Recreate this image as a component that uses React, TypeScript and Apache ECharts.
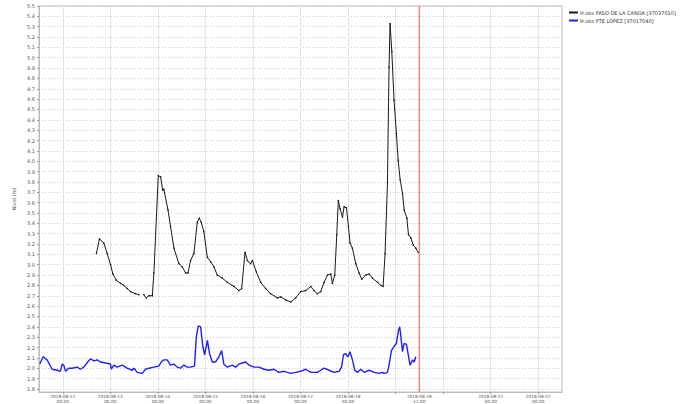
import React, { useEffect, useRef } from "react";
import * as echarts from "echarts";

// Hours since 2018-08-12 00:00 (UTC) and observed levels (m)
const pasoHours = [17, 18.5, 20.7, 22.4, 24.1, 25.3, 27.0, 29.2, 30.8, 32.5, 34.2, 36.7, 38.4, 39.6, 40.9, 42.1, 43.5, 45.2, 46.0, 48.2, 49.4, 50.4, 51.0, 53.1, 54.4, 56.1, 58.6, 60.3, 62.0, 63.2, 64.5, 66.2, 67.9, 68.9, 69.9, 71.2, 73.0, 74.6, 76.3, 78.0, 80.5, 83.1, 86.4, 88.9, 90.3, 92.0, 93.2, 94.8, 95.7, 97.7, 99.9, 102.4, 104.9, 108.3, 110.0, 112.5, 115.1, 117.6, 120.1, 122.6, 125.2, 126.8, 128.5, 130.2, 131.9, 133.6, 135.3, 136.1, 137.3, 138.3, 139.1, 140.0, 141.2, 142.0, 143.2, 144.2, 145.0, 146.2, 147.9, 149.6, 150.9, 152.9, 154.6, 156.3, 158.9, 160.5, 161.7, 162.7, 163.9, 164.7, 165.2, 166.1, 167.2, 168.4, 169.3, 170.3, 171.5, 172.3, 173.7, 174.5, 175.7, 176.9, 178.2, 179.4];
const pasoLevels: (number | null)[] = [3.11, 3.25, 3.21, 3.11, 3.0, 2.91, 2.85, 2.82, 2.8, 2.77, 2.74, 2.72, 2.71, null, 2.71, 2.68, 2.7, 2.7, 2.92, 3.86, 3.85, 3.72, 3.73, 3.53, 3.37, 3.16, 3.01, 2.98, 2.92, 2.92, 3.04, 3.11, 3.41, 3.45, 3.41, 3.32, 3.07, 3.03, 2.98, 2.9, 2.87, 2.83, 2.79, 2.75, 2.77, 3.12, 3.04, 3.01, 3.04, 2.93, 2.83, 2.77, 2.72, 2.68, 2.69, 2.66, 2.64, 2.68, 2.74, 2.75, 2.79, 2.75, 2.72, 2.74, 2.83, 2.9, 2.91, 2.82, 2.9, 3.29, 3.62, 3.54, 3.46, 3.56, 3.55, 3.37, 3.21, 3.16, 3.01, 2.92, 2.86, 2.9, 2.91, 2.87, 2.83, 2.8, 2.79, 3.11, 3.79, 4.91, 5.33, 5.06, 4.59, 4.27, 4.01, 3.82, 3.69, 3.53, 3.45, 3.29, 3.26, 3.19, 3.16, 3.12];

const lopezHours = [-11.6, -9.9, -7.9, -5.4, -2.8, -1.2, -0.3, 0.5, 1.4, 3.0, 4.7, 7.3, 8.9, 10.6, 12.6, 14.0, 15.7, 17.4, 19.0, 21.6, 24.1, 24.5, 25.8, 27.5, 30.0, 32.5, 35.1, 35.9, 37.6, 40.1, 41.8, 43.5, 46.0, 48.5, 49.7, 51.0, 52.7, 54.4, 56.1, 57.8, 59.5, 61.1, 62.9, 64.5, 66.5, 67.4, 68.4, 69.6, 70.7, 71.6, 73.0, 74.1, 75.5, 77.2, 78.8, 80.2, 81.3, 83.1, 85.6, 87.3, 88.9, 90.6, 92.3, 94.0, 96.5, 99.0, 101.6, 104.1, 106.6, 109.1, 111.7, 115.0, 117.6, 120.1, 122.6, 125.2, 128.5, 130.2, 131.9, 134.4, 136.9, 139.5, 140.7, 141.7, 142.8, 144.0, 145.0, 146.2, 147.4, 148.8, 150.4, 152.1, 154.6, 157.2, 159.7, 161.4, 162.2, 163.9, 164.7, 165.9, 167.2, 168.4, 169.5, 170.1, 171.5, 172.3, 173.5, 174.3, 175.3, 176.6, 177.4, 178.2];
const lopezLevels = [2.04, 2.11, 2.08, 1.99, 1.98, 1.97, 2.04, 2.03, 1.97, 2.0, 2.0, 2.01, 1.99, 2.01, 2.06, 2.09, 2.07, 2.08, 2.06, 2.05, 2.04, 1.99, 2.03, 2.01, 2.03, 2.0, 1.98, 2.0, 1.96, 1.95, 1.99, 2.0, 2.01, 2.02, 2.06, 2.08, 2.08, 2.03, 2.04, 2.01, 2.0, 2.03, 2.01, 2.01, 2.02, 2.3, 2.41, 2.4, 2.21, 2.13, 2.27, 2.14, 2.06, 2.06, 2.11, 2.17, 2.04, 2.01, 2.03, 2.01, 2.04, 2.05, 2.06, 2.03, 2.01, 2.01, 1.99, 1.98, 1.99, 1.96, 1.97, 1.95, 1.96, 1.97, 1.99, 1.96, 1.96, 1.98, 2.0, 1.98, 1.96, 1.97, 2.01, 2.13, 2.14, 2.11, 2.16, 2.08, 1.98, 1.96, 1.99, 1.96, 1.98, 1.96, 1.95, 1.96, 1.95, 1.96, 2.03, 2.17, 2.21, 2.24, 2.37, 2.4, 2.16, 2.24, 2.23, 2.14, 2.03, 2.08, 2.06, 2.11];

const seriesNames = ["H.obs PASO DE LA CANOA [37037010]", "H.obs PTE LOPEZ [37017040]"];

const gridDays = ["2018-08-12", "2018-08-13", "2018-08-14", "2018-08-15", "2018-08-16", "2018-08-17", "2018-08-18", "2018-08-19", "2018-08-20", "2018-08-21", "2018-08-22"];
const labelTimes = ["2018-08-12 00:00", "2018-08-13 00:00", "2018-08-14 00:00", "2018-08-15 00:00", "2018-08-16 00:00", "2018-08-17 00:00", "2018-08-18 00:00", "2018-08-19 12:00", "2018-08-21 00:00", "2018-08-22 00:00"];
const nowTime = "2018-08-19 12:00";
const xStart = "2018-08-11 12:00";
const xEnd = "2018-08-22 12:00";

const yTicks = [1.8, 1.9, 2.0, 2.1, 2.2, 2.3, 2.4, 2.5, 2.6, 2.7, 2.8, 2.9, 3.0, 3.1, 3.2, 3.3, 3.4, 3.5, 3.6, 3.7, 3.8, 3.9, 4.0, 4.1, 4.2, 4.3, 4.4, 4.5, 4.6, 4.7, 4.8, 4.9, 5.0, 5.1, 5.2, 5.3, 5.4, 5.5];
const yMin = 1.77;
const yMax = 5.5;
const yName = "Nivel (m)";

const parseT = (s: string) => {
  const [d, t] = s.split(" ");
  const [Y, M, D] = d.split("-").map(Number);
  const [h, m] = (t || "00:00").split(":").map(Number);
  return Date.UTC(Y, M - 1, D, h, m);
};
const base = parseT("2018-08-12 00:00");
const pad = (n: number) => (n < 10 ? "0" : "") + n;
const fmt = (v: number) => {
  const d = new Date(v);
  return `${d.getUTCFullYear()}-${pad(d.getUTCMonth() + 1)}-${pad(d.getUTCDate())}\n${pad(d.getUTCHours())}:${pad(d.getUTCMinutes())}`;
};

export default function App() {
  const ref = useRef<HTMLDivElement>(null);
  useEffect(() => {
    if (!ref.current) return;
    const chart = echarts.init(ref.current, undefined, { renderer: "svg" });
    const pasoData = pasoHours.map((h, i) => [base + h * 3600000, pasoLevels[i]]);
    const lopezData = lopezHours.map((h, i) => [base + h * 3600000, lopezLevels[i]]);
    const nowData = [
      [parseT(nowTime), yMin],
      [parseT(nowTime), yMax],
    ];
    const labelColor = "#555";
    const nowColor = "#f48080";
    chart.setOption({
      animation: false,
      backgroundColor: "#fff",
      grid: {
        left: 39,
        right: 119,
        top: 6,
        bottom: 12,
        show: true,
        borderColor: "#bbb",
        borderWidth: 1,
        outerBoundsMode: "none",
        containLabel: false,
      },
      legend: {
        orient: "vertical",
        left: 564,
        top: 5,
        itemWidth: 9,
        itemHeight: 2,
        itemGap: 3,
        icon: "rect",
        textStyle: { fontSize: 5, color: "#333", fontFamily: "DejaVu Sans", padding: [0, 0, 0, -3] },
        data: seriesNames,
      },
      xAxis: {
        type: "value",
        min: parseT(xStart),
        max: parseT(xEnd),
        axisLine: { show: true, lineStyle: { color: "#bbb" } },
        axisTick: {
          show: true,
          length: 2,
          customValues: gridDays.map(parseT),
          lineStyle: { color: "#999" },
        },
        axisLabel: {
          customValues: labelTimes.map(parseT),
          formatter: (v: number) => fmt(v),
          fontSize: 4.3,
          lineHeight: 4.8,
          margin: 2,
          color: labelColor,
          fontFamily: "DejaVu Sans",
          hideOverlap: false,
        },
        splitLine: { show: true, lineStyle: { color: "#e4e4e4", width: 1 } },
      },
      yAxis: {
        type: "value",
        min: yMin,
        max: yMax,
        name: yName,
        nameLocation: "middle",
        nameGap: 18,
        nameTextStyle: { fontSize: 5, color: labelColor, fontFamily: "DejaVu Sans" },
        axisLine: { show: true, lineStyle: { color: "#bbb" } },
        axisTick: { show: true, length: 2, customValues: yTicks, lineStyle: { color: "#999" } },
        axisLabel: {
          customValues: yTicks,
          formatter: (v: number) => v.toFixed(1),
          fontSize: 5,
          margin: 4,
          color: labelColor,
          fontFamily: "DejaVu Sans",
        },
        splitLine: { show: true, lineStyle: { color: "#cccccc", type: [1, 2], width: 1 } },
      },
      series: [
        {
          name: seriesNames[0],
          type: "line",
          data: pasoData,
          connectNulls: false,
          showSymbol: true,
          symbol: "circle",
          symbolSize: 1.5,
          itemStyle: { color: "#1a1a1a" },
          lineStyle: { color: "#1a1a1a", width: 1 },
          z: 3,
        },
        {
          name: seriesNames[1],
          type: "line",
          data: lopezData,
          showSymbol: false,
          itemStyle: { color: "#1f1fff" },
          lineStyle: { color: "#1f1fff", width: 1.4 },
          z: 3,
        },
        {
          name: "now",
          type: "line",
          data: nowData,
          showSymbol: false,
          silent: true,
          itemStyle: { color: nowColor },
          lineStyle: { color: nowColor, width: 1.5 },
          z: 10,
        },
      ],
    });
    return () => chart.dispose();
  }, []);
  return <div ref={ref} style={{ position: "fixed", left: 0, top: 0, width: 681, height: 404 }} />;
}
